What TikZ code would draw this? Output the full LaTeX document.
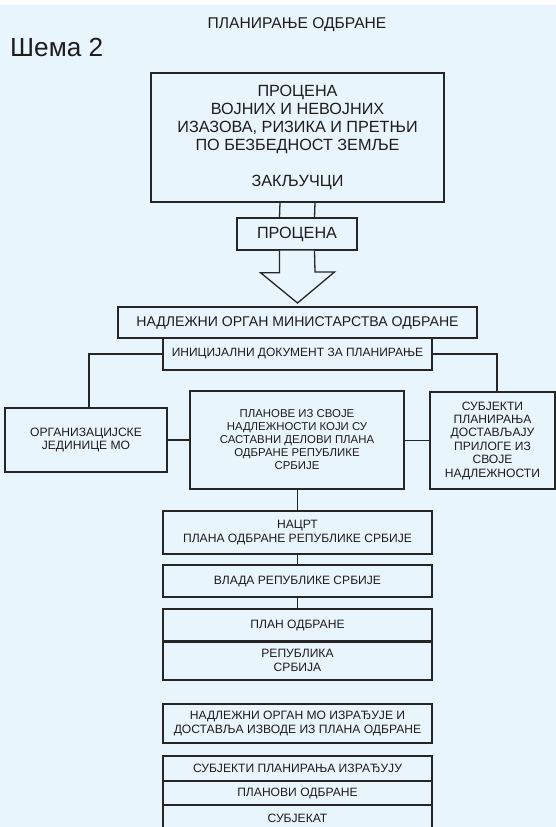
\documentclass[tikz,border=0pt]{standalone}
\usepackage{fontspec}
\setmainfont{Liberation Sans}
\definecolor{bg}{HTML}{E9F5FC}
\definecolor{tc}{HTML}{1E1C1D}
\definecolor{lc}{HTML}{262626}
\begin{document}
\begin{tikzpicture}[x=1bp,y=-1bp,
  box/.style={draw=lc, line width=1.3bp, fill=bg, align=center, inner sep=0pt, text=tc, minimum width=269bp},
  conn/.style={draw=lc, line width=1.9bp},
  thin/.style={draw=lc, line width=1.3bp},
  fbig/.style={font=\fontsize{16.2bp}{18bp}\selectfont},
  fsm/.style={font=\fontsize{12.1bp}{13.4bp}\selectfont}]
\useasboundingbox (0,0) rectangle (556,827);
\fill[white] (0,0) rectangle (556,827);
\fill[bg] (0,5) rectangle (556,827);
\clip (0,0) rectangle (556,827);

\node[text=tc, font=\fontsize{15.6bp}{18bp}\selectfont] (title) at (297,25) {ПЛАНИРАЊЕ ОДБРАНЕ};
\node[text=tc, anchor=west, inner sep=0pt, font=\fontsize{26.2bp}{28bp}\selectfont] (shema) at (10,47) {Шема 2};

\node[box, fbig, minimum width=293bp, minimum height=129bp] (big) at (297.5,137.5)
  {ПРОЦЕНА\\ВОЈНИХ И НЕВОЈНИХ\\ИЗАЗОВА, РИЗИКА И ПРЕТЊИ\\ПО БЕЗБЕДНОСТ ЗЕМЉЕ\\[18bp]ЗАКЉУЧЦИ};
\node[box, fbig, minimum width=120bp, minimum height=32bp] (proc) at (297,234) {ПРОЦЕНА};

\draw[thin] ([xshift=-17.5bp]big.south) -- ([xshift=-17.5bp]proc.north);
\draw[thin] ([xshift=17.5bp]big.south) -- ([xshift=17.5bp]proc.north);

\coordinate (tip) at (297.5,303);
\draw[thin, fill=bg] ([xshift=-17.5bp]proc.south) -- ++(0,22) -- ++(-19,0) -- (tip)
  -- (334.5,272) -- (315,272) -- ([xshift=17.5bp]proc.south);

\node[box, font=\fontsize{14.1bp}{17bp}\selectfont, minimum width=359bp, minimum height=31bp] (nadl) at (297.5,322.5) {НАДЛЕЖНИ ОРГАН МИНИСТАРСТВА ОДБРАНЕ};
\node[box, font=\fontsize{12bp}{15bp}\selectfont, minimum height=32bp] (init) at (297.5,354) {ИНИЦИЈАЛНИ ДОКУМЕНТ ЗА ПЛАНИРАЊЕ};

\node[box, fsm, minimum width=162bp, minimum height=64bp] (org) at (86,440) {ОРГАНИЗАЦИЈСКЕ\\ЈЕДИНИЦЕ МО};
\node[box, font=\fontsize{11.4bp}{13bp}\selectfont, minimum width=214bp, minimum height=98bp] (mid) at (297,440)
  {ПЛАНОВЕ ИЗ СВОЈЕ\\НАДЛЕЖНОСТИ КОЈИ СУ\\САСТАВНИ ДЕЛОВИ ПЛАНА\\ОДБРАНЕ РЕПУБЛИКЕ\\СРБИЈЕ};
\node[box, fsm, minimum width=125bp, minimum height=97bp] (subj) at (492.5,440.5)
  {СУБЈЕКТИ\\ПЛАНИРАЊА\\ДОСТАВЉАЈУ\\ПРИЛОГЕ ИЗ\\СВОЈЕ\\НАДЛЕЖНОСТИ};

\draw[conn] (init.west) -| ([xshift=3bp]org.north);
\draw[conn] (init.east) -| ([xshift=4.5bp]subj.north);
\draw[conn] (org.east) -- (mid.west |- org.east);
\draw[conn] (mid.east |- subj.west) -- (subj.west);

\node[box, fsm, minimum height=43bp] (nacrt) at (297.5,532.5) {НАЦРТ\\ПЛАНА ОДБРАНЕ РЕПУБЛИКЕ СРБИЈЕ};
\node[box, fsm, minimum height=32bp] (vlada) at (297.5,581) {ВЛАДА РЕПУБЛИКЕ СРБИЈЕ};
\node[box, fsm, minimum height=32bp] (plan) at (297.5,625) {ПЛАН ОДБРАНЕ};
\node[box, fsm, minimum height=39bp] (rep) at (297.5,660.5) {РЕПУБЛИКА\\СРБИЈА};
\draw[draw=lc, line width=2.2bp] (plan.south west) -- (plan.south east);

\draw[conn] (nacrt.north |- mid.south) -- (nacrt.north);
\draw[conn] (nacrt.south) -- (vlada.north);
\draw[conn] (vlada.south) -- (plan.north);

\node[box, fsm, minimum height=39bp] (nadlmo) at (297.5,723.5) {НАДЛЕЖНИ ОРГАН МО ИЗРАЂУЈЕ И\\ДОСТАВЉА ИЗВОДЕ ИЗ ПЛАНА ОДБРАНЕ};
\node[box, fsm, minimum height=25bp] (izr) at (297.5,768.5) {СУБЈЕКТИ ПЛАНИРАЊА ИЗРАЂУЈУ};
\node[box, fsm, minimum height=24bp] (planovi) at (297.5,793) {ПЛАНОВИ ОДБРАНЕ};
\node[box, fsm, minimum height=26bp] (subjekat) at (297.5,818) {СУБЈЕКАТ};
\end{tikzpicture}
\end{document}
